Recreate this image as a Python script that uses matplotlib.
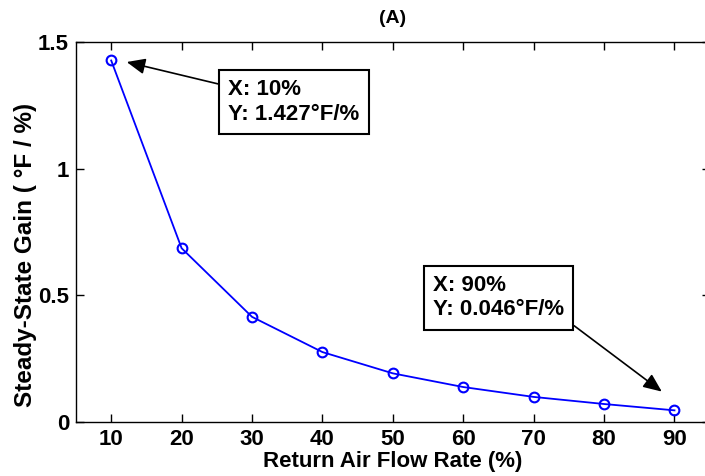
import matplotlib
matplotlib.use("Agg")
from matplotlib import pyplot as plt

flow_rate = [10, 20, 30, 40, 50, 60, 70, 80, 90]
gain = [1.427, 0.686, 0.415, 0.276, 0.192, 0.138, 0.099, 0.071, 0.046]
x_ticks = [10, 20, 30, 40, 50, 60, 70, 80, 90]
y_ticks = [0, 0.5, 1, 1.5]
y_tick_labels = ["0", "0.5", "1", "1.5"]

plt.rcParams['font.family'] = ['Liberation Sans', 'DejaVu Sans']
plt.rcParams['font.weight'] = 'bold'

fig = plt.figure(figsize=(7.05, 4.76), dpi=100)
ax = fig.add_axes([76 / 705, 1 - 422 / 476, (709.7 - 76) / 705, (422 - 42) / 476])

ax.plot(flow_rate, gain, color='#0000ff', lw=1.3, marker='o', ms=7,
        mfc='none', mec='#0000ff', mew=1.5)

ax.set_xlim(5, 95)
ax.set_ylim(0, 1.5)
ax.set_xticks(x_ticks)
ax.set_yticks(y_ticks)
ax.set_yticklabels(y_tick_labels)
ax.tick_params(direction='in', length=6, width=1, labelsize=16, pad=5,
               top=True, right=True)
for s in ax.spines.values():
    s.set_linewidth(1)

ax.set_xlabel("Return Air Flow Rate (%)", fontsize=16, fontweight='bold', labelpad=1)
# matlab puts the y label a bit below the axes centre
fig.text(26 / 705, 1 - 255 / 476, "Steady-State Gain ( °F / %)", fontsize=17.5,
         fontweight='bold', rotation=90, ha='center', va='center')
ax.set_title("(A)", fontsize=14, fontweight='bold', pad=14)

box = dict(boxstyle='square,pad=0.42', fc='white', ec='black', lw=1.5)
arrow = dict(arrowstyle='-|>,head_length=0.7,head_width=0.3', color='black', lw=1.2,
             shrinkA=0, shrinkB=0)

ax.annotate("X: 10%\nY: 1.427°F/%", xy=(12.2, 1.421), xytext=(26.6, 1.263),
            fontsize=16, fontweight='bold', ha='left', va='center',
            linespacing=1.2, bbox=box, arrowprops=arrow)
ax.annotate("X: 90%\nY: 0.046°F/%", xy=(88.2, 0.12), xytext=(55.7, 0.49),
            fontsize=16, fontweight='bold', ha='left', va='center',
            linespacing=1.2, bbox=box,
            arrowprops=dict(arrow, relpos=(1.0, 0.05)))

fig.savefig("out.png", dpi=100, facecolor='white')
